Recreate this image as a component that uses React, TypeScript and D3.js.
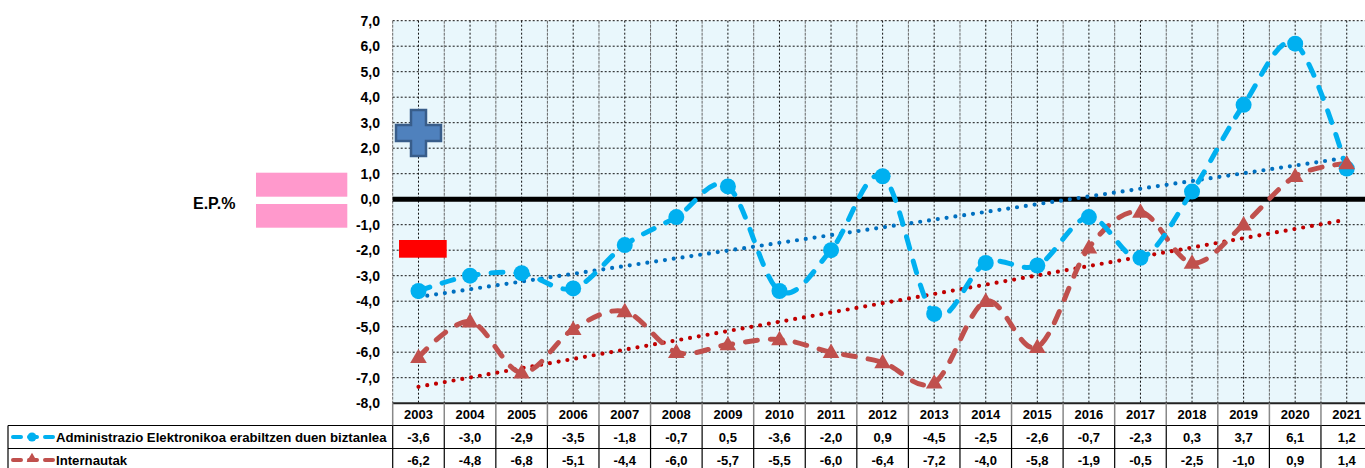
import React from "react";
import * as d3 from "d3";

const years = ["2003","2004","2005","2006","2007","2008","2009","2010","2011","2012","2013","2014","2015","2016","2017","2018","2019","2020","2021"];
const adminValues = [-3.6,-3.0,-2.9,-3.5,-1.8,-0.7,0.5,-3.6,-2.0,0.9,-4.5,-2.5,-2.6,-0.7,-2.3,0.3,3.7,6.1,1.2];
const internetValues = [-6.2,-4.8,-6.8,-5.1,-4.4,-6.0,-5.7,-5.5,-6.0,-6.4,-7.2,-4.0,-5.8,-1.9,-0.5,-2.5,-1.0,0.9,1.4];
const yTicks = [7,6,5,4,3,2,1,0,-1,-2,-3,-4,-5,-6,-7,-8];
const seriesNames = ["Administrazio Elektronikoa erabiltzen duen biztanlea", "Internautak"];
const yTitle = "E.P.%";

const FONT = "'Liberation Sans', Arial, sans-serif";
const fmt = (v: number) => v.toFixed(1).replace(".", ",");

function regression(vals: number[]) {
  const n = vals.length;
  const xs = vals.map((_, i) => i);
  const mx = d3.mean(xs)!;
  const my = d3.mean(vals)!;
  let num = 0, den = 0;
  xs.forEach((x, i) => { num += (x - mx) * (vals[i] - my); den += (x - mx) * (x - mx); });
  const b = num / den;
  const a = my - b * mx;
  return [a, a + b * (n - 1)];
}

export default function App() {
  const W = 1365, H = 468;
  const left = 392.7, colW = 51.57;
  const x = d3.scaleBand<string>().domain(years).range([left, left + colW * years.length]).padding(0);
  const cx = (yr: string) => (x(yr) as number) + x.bandwidth() / 2;
  const y = d3.scaleLinear().domain([-8, 7]).range([403.2, 20.7]);
  const plotRight = left + colW * years.length;

  const line = d3.line<number>()
    .x((_, i) => cx(years[i]))
    .y(d => y(d))
    .curve(d3.curveCardinal.tension(0));

  const trLine = d3.line<[number, number]>().x(d => d[0]).y(d => d[1]);
  const adminTr = regression(adminValues);
  const netTr = regression(internetValues);

  const blue = "#00B0F0";
  const red = "#C0504D";
  const tri = d3.symbol().type(d3.symbolTriangle).size(120)()!;

  const halfSteps = d3.range(0, years.length * 2 + 1);
  const rowTop = [403.2, 425.5, 448.5, 471.5];

  return (
    <div style={{ position: "absolute", left: 0, top: 0 }}>
      <svg width={W} height={H} style={{ display: "block" }} fontFamily={FONT}>
        <rect x={0} y={0} width={W} height={H} fill="#fff" />
        {/* plot background */}
        <rect x={left} y={y(7)} width={plotRight - left} height={y(-8) - y(7)} fill="#E9F7FC" />
        {/* horizontal grid */}
        {yTicks.filter(t => t > -8).map(t => (
          <line key={"h" + t} x1={left} x2={plotRight} y1={y(t)} y2={y(t)} stroke="#111" strokeWidth={1} strokeDasharray="2 2" />
        ))}
        {/* vertical grid */}
        {halfSteps.map(k => {
          const xx = left + k * colW / 2;
          const boundary = k % 2 === 0;
          return (
            <line key={"v" + k} x1={xx} x2={xx} y1={y(7)} y2={y(-8)}
              stroke={boundary ? "#666" : "#111"} strokeWidth={1} strokeDasharray={boundary ? "3 1" : "2 2"} />
          );
        })}
        {/* zero line */}
        <line x1={left} x2={plotRight} y1={y(0)} y2={y(0)} stroke="#000" strokeWidth={5} />

        {/* y axis labels */}
        {yTicks.map(t => (
          <text key={"yl" + t} x={380} y={y(t)} dy="0.36em" textAnchor="end" fontSize={14} fontWeight="bold" fill="#000">{fmt(t)}</text>
        ))}
        <text x={193} y={203} dy="0.36em" fontSize={16} fontWeight="bold" fill="#000">{yTitle}</text>

        {/* decorations */}
        <rect x={256} y={172.7} width={91.3} height={24} fill="#FF99CC" />
        <rect x={256} y={204} width={91.3} height={23.7} fill="#FF99CC" />
        <path d="M411,110 H426 V125 H441 V141 H426 V156 H411 V141 H396 V125 H411 Z" fill="#4F81BD" stroke="#385D8A" strokeWidth={2.5} />
        <rect x={399} y={240} width={47.7} height={17.7} fill="#FF0000" />

        {/* trend lines */}
        <path d={trLine([[cx(years[0]), y(netTr[0])], [cx(years[years.length - 1]), y(netTr[1])]])!} fill="none" stroke="#C00000" strokeWidth={4.2} strokeLinecap="round" strokeDasharray="0 8.9" />
        <path d={trLine([[cx(years[0]), y(adminTr[0])], [cx(years[years.length - 1]), y(adminTr[1])]])!} fill="none" stroke="#0070C0" strokeWidth={4.2} strokeLinecap="round" strokeDasharray="0 8.9" />

        {/* series lines */}
        <path d={line(internetValues)!} fill="none" stroke={red} strokeWidth={5} strokeLinecap="round" strokeDasharray="12 13" />
        <path d={line(adminValues)!} fill="none" stroke={blue} strokeWidth={5} strokeLinecap="round" strokeDasharray="12 13" />
        {adminValues.map((v, i) => (
          <circle key={"c" + i} cx={cx(years[i])} cy={y(v)} r={8} fill={blue} />
        ))}
        {internetValues.map((v, i) => (
          <path key={"t" + i} d={tri} transform={`translate(${cx(years[i])},${y(v) + 1})`} fill={red} />
        ))}

        {/* table */}
        <line x1={left} x2={W} y1={rowTop[0]} y2={rowTop[0]} stroke="#222" strokeWidth={2} />
        <line x1={8} x2={W} y1={rowTop[1]} y2={rowTop[1]} stroke="#000" strokeWidth={1.2} />
        <line x1={8} x2={W} y1={rowTop[2]} y2={rowTop[2]} stroke="#000" strokeWidth={1.2} />
        <line x1={8} x2={W} y1={rowTop[3]} y2={rowTop[3]} stroke="#000" strokeWidth={1.2} />
        <line x1={8} x2={8} y1={rowTop[1]} y2={rowTop[3]} stroke="#000" strokeWidth={1.2} />
        {d3.range(0, years.length + 1).map(k => {
          const xx = left + k * colW;
          return (
            <g key={"tv" + k}>
              <line x1={xx} x2={xx} y1={rowTop[0]} y2={rowTop[1]} stroke="#888" strokeWidth={1.5} />
              <line x1={xx} x2={xx} y1={rowTop[1]} y2={rowTop[3]} stroke="#000" strokeWidth={1.2} />
            </g>
          );
        })}
        {years.map((yr, i) => (
          <g key={"tc" + yr} fontSize={13} fontWeight="bold" textAnchor="middle" fill="#000">
            <text x={cx(yr)} y={(rowTop[0] + rowTop[1]) / 2} dy="0.36em">{yr}</text>
            <text x={cx(yr)} y={(rowTop[1] + rowTop[2]) / 2} dy="0.36em">{fmt(adminValues[i])}</text>
            <text x={cx(yr)} y={(rowTop[2] + rowTop[3]) / 2} dy="0.36em">{fmt(internetValues[i])}</text>
          </g>
        ))}

        {/* legend keys */}
        <g>
          <line x1={13} x2={53} y1={437} y2={437} stroke={blue} strokeWidth={4} strokeLinecap="round" strokeDasharray="8 8" />
          <circle cx={32} cy={437} r={4.5} fill={blue} />
          <text x={56} y={437} dy="0.36em" fontSize={13.2} fontWeight="bold">{seriesNames[0]}</text>
          <line x1={13} x2={53} y1={460} y2={460} stroke={red} strokeWidth={4} strokeLinecap="round" strokeDasharray="8 8" />
          <path d={d3.symbol().type(d3.symbolTriangle).size(50)()!} transform="translate(32,459)" fill={red} />
          <text x={56} y={460} dy="0.36em" fontSize={13.2} fontWeight="bold">{seriesNames[1]}</text>
        </g>
      </svg>
    </div>
  );
}
